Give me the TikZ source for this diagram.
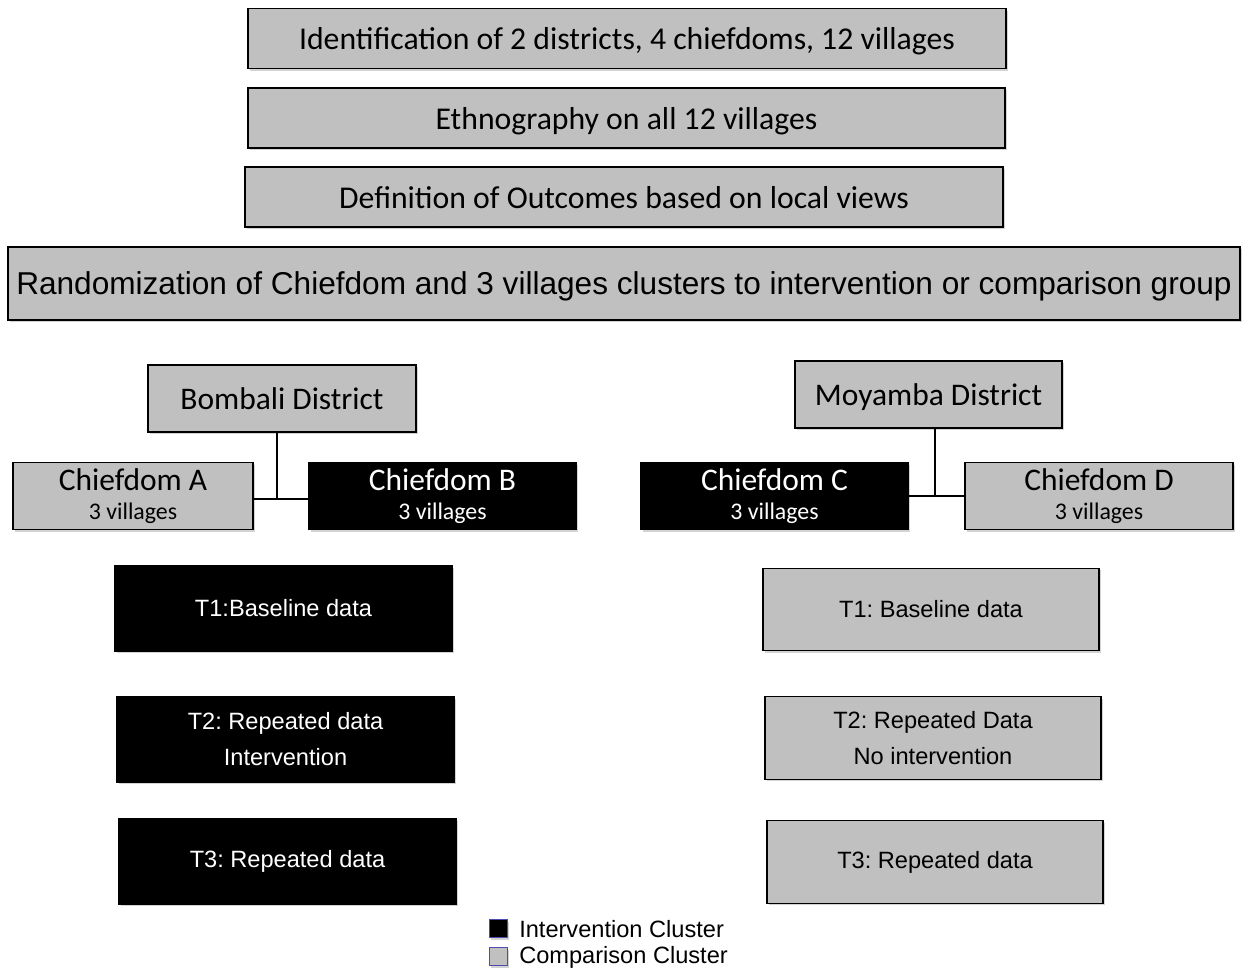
\documentclass[tikz,border=0pt]{standalone}
\usepackage{fontspec}
\setmainfont{Carlito}
\newfontfamily\arial{Liberation Sans}
\usetikzlibrary{shadows}
\definecolor{boxgray}{RGB}{192,192,192}
\frenchspacing

\begin{document}
\begin{tikzpicture}[x=0.75pt, y=-0.75pt]
    \useasboundingbox (0,0) rectangle (1245,972);
    \tikzset{box/.style={draw=black, line width=0.9pt, inner sep=0pt,
        fill=boxgray, text=black, align=center,
        drop shadow={opacity=0.35, shadow xshift=1.2pt, shadow yshift=-1.5pt}}}
    \tikzset{topbox/.style={box, minimum height=45pt, text depth=0pt,
        font=\fontsize{23.8}{26}\selectfont}}
    \tikzset{chief/.style={box, minimum width=200.25pt, minimum height=50.25pt,
        font=\fontsize{23.6}{22}\selectfont}}
    \tikzset{tbox/.style={box, minimum width=252.75pt, minimum height=63.75pt,
        font=\arial\fontsize{17.7}{27}\selectfont}}
    \tikzset{interv/.style={fill=black, text=white}}

    % steps
    \node[topbox, minimum width=568.5pt] (ident) at (627,38.5)
        {Identification of 2 districts, 4 chiefdoms, 12 villages};
    \node[topbox, minimum width=567.75pt] (ethno) at (626.5,118)
        {Ethnography on all 12 villages};
    \node[topbox, minimum width=568.5pt] (defin) at (624,197)
        {Definition of Outcomes based on local views};
    \node[box, minimum width=924pt, minimum height=54.75pt, text depth=0pt,
        font=\arial\fontsize{23.7}{26}\selectfont] (rand) at (624,283.5)
        {Randomization of Chiefdom and 3 villages clusters to intervention or comparison group};

    % Bombali
    \node[chief, minimum width=201pt, text depth=0pt] (bomb) at (282,398.5) {Bombali District};
    \node[chief, minimum width=180pt] (ca) at (133,496)
        {Chiefdom A\\{\fontsize{17.9}{18}\selectfont 3 villages}};
    \node[chief, interv] (cb) at (442.5,496)
        {Chiefdom B\\{\fontsize{17.9}{18}\selectfont 3 villages}};
    \coordinate (jl) at (277,499);
    \draw[line width=0.9pt] (bomb.south -| jl) -- (jl);
    \draw[line width=0.9pt] (ca.east |- jl) -- (cb.west |- jl);

    % Moyamba
    \node[chief, text depth=0pt] (moya) at (928.5,394.5) {Moyamba District};
    \node[chief, interv] (cc) at (774.5,496)
        {Chiefdom C\\{\fontsize{17.9}{18}\selectfont 3 villages}};
    \node[chief, minimum width=201pt] (cd) at (1099,496)
        {Chiefdom D\\{\fontsize{17.9}{18}\selectfont 3 villages}};
    \coordinate (jr) at (935,496);
    \draw[line width=0.9pt] (moya.south -| jr) -- (jr);
    \draw[line width=0.9pt] (cc.east |- jr) -- (cd.west |- jr);

    % time points
    \node[tbox, interv] (t1l) at (283.5,608.5) {T1:Baseline data};
    \node[tbox, interv] (t2l) at (285.5,739.5) {T2: Repeated data\\Intervention};
    \node[tbox, interv] (t3l) at (287.5,861.5) {T3: Repeated data};
    \tikzset{tbox/.append style={minimum width=252pt, minimum height=62pt}}
    \node[tbox] (t1r) at (931,609.5) {T1: Baseline data};
    \node[tbox] (t2r) at (933,738) {T2: Repeated Data\\No intervention};
    \node[tbox] (t3r) at (935,862) {T3: Repeated data};

    % legend
    \tikzset{key/.style={box, draw=blue!40!gray, line width=1pt,
        minimum width=13.5pt, minimum height=13.5pt}}
    \node[key, fill=black] (kint) at (498.5,928.5) {};
    \node[key] (kcom) at (498.5,956.5) {};
    \node[anchor=west, inner sep=0pt, font=\arial\fontsize{17.7}{18}\selectfont]
        (lint) at (519,929) {Intervention Cluster};
    \node[anchor=west, inner sep=0pt, font=\arial\fontsize{17.7}{18}\selectfont]
        (lcom) at (519,957) {Comparison Cluster};
\end{tikzpicture}
\end{document}
